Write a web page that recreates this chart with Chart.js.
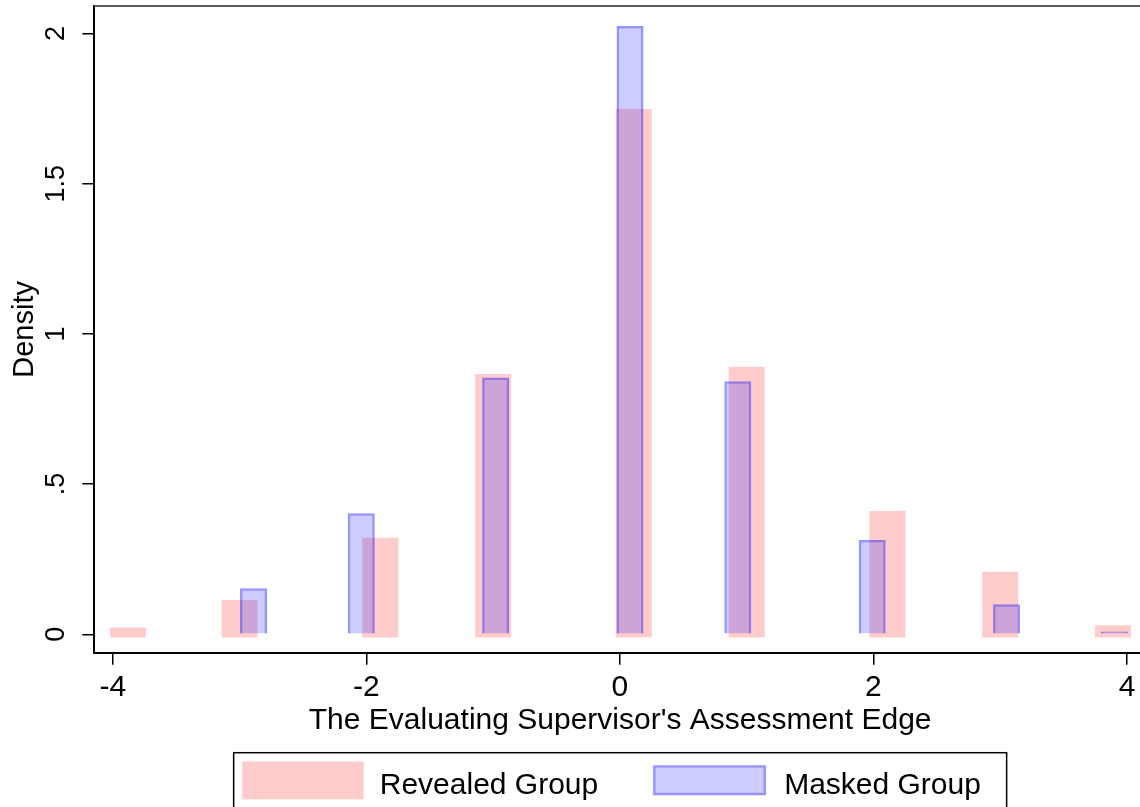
<!DOCTYPE html>
<html>
<head>
<meta charset="utf-8">
<script src="https://cdn.jsdelivr.net/npm/chart.js@4.4.1/dist/chart.umd.min.js"></script>
<style>
  html, body { margin: 0; padding: 0; background: #fff; overflow: hidden; }
  #wrap { width: 1140px; height: 807px; overflow: hidden; position: relative; }
  canvas { display: block; }
</style>
</head>
<body>
<div id="wrap"><canvas id="c" width="1146" height="807"></canvas></div>
<script>
// Histogram bin centres and densities for the two groups
const revealedBins    = [-3.88, -3.00, -1.89, -1.00, 0.11, 1.00, 2.11, 3.00, 3.89];
const revealedDensity = [0.009, 0.101, 0.308, 0.853, 1.735, 0.877, 0.397, 0.195, 0.017];
const maskedBins      = [-2.89, -2.04, -0.98, 0.08, 0.93, 1.99, 3.05, 3.90];
const maskedDensity   = [0.153, 0.403, 0.855, 2.025, 0.842, 0.314, 0.100, 0.009];

const xTicks = [-4, -2, 0, 2, 4];
const yTicks = [0, 0.5, 1, 1.5, 2];
const yTickLabels = ['0', '.5', '1', '1.5', '2'];
const seriesNames = ['Revealed Group', 'Masked Group'];
const xTitle = "The Evaluating Supervisor's Assessment Edge";
const yTitle = 'Density';

const FONT = '"Liberation Sans", Arial, Helvetica, sans-serif';
Chart.defaults.font.family = FONT;
Chart.defaults.color = '#000';

// Outline along the top of the plot region
const plotFrame = {
  id: 'plotFrame',
  afterDraw(chart) {
    const { ctx, chartArea: a } = chart;
    ctx.save();
    ctx.strokeStyle = '#5a5a5a';
    ctx.lineWidth = 2;
    ctx.beginPath();
    ctx.moveTo(a.left, a.top);
    ctx.lineTo(a.right, a.top);
    ctx.stroke();
    ctx.restore();
  }
};

// Framed legend below the x-axis title
const framedLegend = {
  id: 'framedLegend',
  afterDraw(chart) {
    const { ctx, chartArea: a } = chart;
    const cx = (a.left + a.right) / 2;
    const ds = chart.data.datasets;
    ctx.save();
    ctx.strokeStyle = '#000';
    ctx.lineWidth = 1.5;
    ctx.strokeRect(cx - 386.5, 752.7, 773, 56);

    // first key: solid swatch
    ctx.fillStyle = ds[0].backgroundColor;
    ctx.fillRect(cx - 378, 761.5, 121.6, 37.8);

    // second key: fill with outline
    const bx = cx + 33, by = 765.3, bw = 112.8, bh = 30, bwid = ds[1].borderWidth;
    ctx.beginPath();
    ctx.rect(bx, by, bw, bh);
    ctx.rect(bx + bwid, by + bwid, bw - 2 * bwid, bh - 2 * bwid);
    ctx.fillStyle = ds[1].borderColor;
    ctx.fill('evenodd');
    ctx.fillStyle = ds[1].backgroundColor;
    ctx.fillRect(bx + bwid, by + bwid, bw - 2 * bwid, bh - 2 * bwid);

    ctx.fillStyle = '#000';
    ctx.font = '30px ' + FONT;
    ctx.textBaseline = 'alphabetic';
    ctx.textAlign = 'left';
    ctx.fillText(ds[0].label, cx - 240.4, 794);
    ctx.fillText(ds[1].label, cx + 164, 794);
    ctx.restore();
  }
};

new Chart(document.getElementById('c'), {
  type: 'bar',
  data: {
    datasets: [
      {
        label: seriesNames[0],
        data: revealedBins.map((x, i) => ({ x, y: revealedDensity[i] })),
        backgroundColor: 'rgba(255,0,0,0.2)',
        borderWidth: 0,
        inflateAmount: 4,
        barThickness: 28,
        order: 2
      },
      {
        label: seriesNames[1],
        data: maskedBins.map((x, i) => ({ x, y: maskedDensity[i] })),
        backgroundColor: 'rgba(0,0,255,0.2)',
        borderColor: 'rgba(0,0,255,0.42)',
        borderWidth: 2.5,
        inflateAmount: 0,
        barThickness: 27,
        order: 1
      }
    ]
  },
  options: {
    responsive: false,
    animation: false,
    devicePixelRatio: 1,
    layout: { padding: { top: 6, bottom: 68.5, left: 0, right: 0 } },
    datasets: { bar: { grouped: false } },
    plugins: { legend: { display: false }, tooltip: { enabled: false } },
    scales: {
      x: {
        type: 'linear',
        min: -4.146,
        max: 4.15,
        offset: false,
        afterBuildTicks: s => { s.ticks = xTicks.map(v => ({ value: v })); },
        afterFit: s => { s.height = 85.8; s.paddingLeft = 0; s.paddingRight = 0; },
        grid: { offset: false, drawOnChartArea: false, drawTicks: true, tickLength: 12, color: '#000', lineWidth: 1.5 },
        border: { display: true, color: '#000', width: 2 },
        ticks: {
          autoSkip: false, maxRotation: 0, minRotation: 0, padding: 5,
          color: '#000', font: { size: 30 },
          callback: v => String(v)
        },
        title: {
          display: true, text: xTitle, color: '#000',
          font: { size: 30 }, padding: { top: 0, bottom: 0 }
        }
      },
      y: {
        type: 'linear',
        min: -0.0612,
        max: 2.0915,
        afterBuildTicks: s => { s.ticks = yTicks.map(v => ({ value: v })); },
        afterFit: s => { s.width = 94.3; s.paddingTop = 0; s.paddingBottom = 0; },
        grid: { drawOnChartArea: false, drawTicks: true, tickLength: 12, color: '#000', lineWidth: 1.5 },
        border: { display: true, color: '#000', width: 2 },
        ticks: {
          autoSkip: false, minRotation: 90, maxRotation: 90, crossAlign: 'center', padding: 7,
          color: '#000', font: { size: 27 },
          callback: v => yTickLabels[yTicks.indexOf(v)]
        },
        title: {
          display: true, text: yTitle, color: '#000',
          font: { size: 29 }, padding: { top: 7.2, bottom: 0 }
        }
      }
    }
  },
  plugins: [plotFrame, framedLegend]
});
</script>
</body>
</html>
